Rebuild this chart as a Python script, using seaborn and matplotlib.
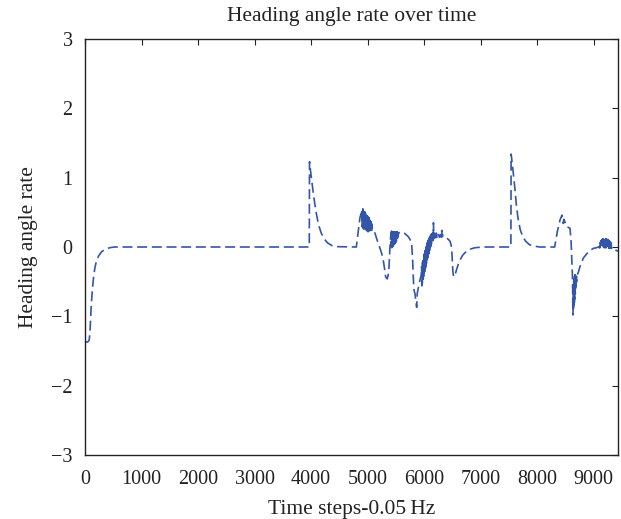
import matplotlib
matplotlib.use("Agg")
import matplotlib.pyplot as plt
import seaborn as sns
import pandas as pd

# ---- data ----
time_steps = [
    0, 50, 75, 90, 110, 130, 156, 180, 204, 240, 292, 360, 440, 520,
    3968, 3972, 3990, 4010, 4040, 4070, 4100, 4140, 4180, 4230, 4290, 4370, 4450, 4800,
    4830, 4864, 4890,
    4900, 4904, 4908, 4912, 4916, 4920, 4924, 4928, 4932, 4936, 4940, 4944, 4948, 4952,
    4956, 4960, 4964, 4968, 4972, 4976, 4980, 4984, 4988, 4992, 4996, 5000, 5004, 5008,
    5012, 5016, 5020, 5024, 5028, 5032, 5036, 5040, 5044, 5048, 5052, 5056, 5060, 5064,
    5068, 5072, 5076, 5080,
    5100, 5130, 5160, 5188, 5220, 5248, 5275, 5294, 5319, 5347, 5365, 5377, 5387, 5395, 5413,
    5420, 5424, 5428, 5432, 5436, 5440, 5444, 5448, 5452, 5456, 5460, 5464, 5468, 5472,
    5476, 5480, 5484, 5488, 5492, 5496, 5500, 5504, 5508, 5512, 5516, 5520, 5524, 5528,
    5532, 5536, 5540, 5546,
    5570, 5602, 5650, 5719, 5750, 5779, 5797, 5808, 5820, 5837, 5868, 5878, 5914, 5950,
    5956, 5960, 5964, 5968, 5972, 5976, 5980, 5984, 5988, 5992, 5996, 6000, 6004, 6008,
    6012, 6016, 6020, 6024, 6028, 6032, 6036, 6040, 6044, 6048, 6052, 6056, 6060, 6064,
    6068, 6072, 6076, 6080, 6084, 6088, 6092, 6096, 6100, 6104, 6108, 6112, 6116, 6120,
    6124, 6128, 6132, 6136, 6140, 6144, 6148, 6152, 6156, 6160, 6165, 6170,
    6185, 6200, 6215, 6230, 6250, 6270, 6290, 6305, 6312, 6320, 6340, 6370, 6400, 6440,
    6460, 6480, 6490, 6498, 6508, 6520, 6535, 6555, 6576, 6600, 6634, 6680, 6750, 6820,
    6900, 7050, 7535,
    7539, 7560, 7580, 7605, 7630, 7660, 7700, 7750, 7800, 7870, 7960, 8050, 8310,
    8356, 8404, 8439, 8452, 8462, 8472, 8492, 8505, 8533, 8581, 8599, 8611, 8622,
    8626, 8630, 8634, 8638, 8642, 8646, 8650, 8654, 8658, 8662, 8666, 8670, 8674, 8678,
    8682, 8686, 8690, 8694, 8698, 8702,
    8730, 8758, 8816, 8905, 8993, 9050, 9090,
    9100, 9106, 9112, 9118, 9124, 9130, 9136, 9142, 9148, 9154, 9160, 9166, 9172, 9178,
    9184, 9190, 9196, 9202, 9208, 9214, 9220, 9226, 9232, 9238, 9244, 9250, 9256, 9262,
    9268, 9274, 9280, 9286, 9292, 9298, 9304, 9310, 9316, 9322, 9360, 9400, 9430,
]
heading_rate = [
    -1.37, -1.37, -1.34, -1.20, -0.85, -0.62, -0.40, -0.28, -0.20, -0.13, -0.07, -0.03, -0.01, 0.0,
    0.0, 1.23, 1.10, 0.97, 0.77, 0.60, 0.45, 0.30, 0.20, 0.12, 0.06, 0.02, 0.005, 0.0,
    0.20, 0.42, 0.50,
    0.54, 0.30, 0.52, 0.28, 0.55, 0.31, 0.50, 0.26, 0.53, 0.29, 0.49, 0.27, 0.51, 0.30,
    0.47, 0.25, 0.48, 0.28, 0.46, 0.24, 0.45, 0.27, 0.44, 0.23, 0.45, 0.26, 0.42, 0.22,
    0.43, 0.25, 0.41, 0.23, 0.42, 0.24, 0.39, 0.22, 0.40, 0.24, 0.37, 0.23, 0.36, 0.24,
    0.34, 0.23, 0.32, 0.25,
    0.24, 0.20, 0.12, 0.05, -0.02, -0.09, -0.18, -0.28, -0.43, -0.46, -0.40, -0.31, -0.15, 0.0, 0.20,
    0.01, 0.23, -0.01, 0.21, 0.00, 0.22, 0.02, 0.20, 0.01, 0.22, 0.03, 0.21, 0.02, 0.22,
    0.04, 0.21, 0.05, 0.22, 0.06, 0.21, 0.07, 0.22, 0.08, 0.21, 0.10, 0.22, 0.11, 0.21,
    0.13, 0.21, 0.15, 0.20,
    0.21, 0.22, 0.20, 0.15, 0.11, 0.05, -0.19, -0.43, -0.62, -0.67, -0.87, -0.67, -0.52, -0.40,
    -0.28, -0.56, -0.26, -0.52, -0.22, -0.50, -0.20, -0.46, -0.16, -0.42, -0.13, -0.40, -0.10, -0.36,
    -0.07, -0.33, -0.05, -0.30, -0.02, -0.27, 0.00, -0.24, 0.03, -0.21, 0.05, -0.18, 0.07, -0.15,
    0.09, -0.12, 0.10, -0.10, 0.12, -0.07, 0.13, -0.05, 0.15, -0.02, 0.16, 0.00, 0.17, 0.02,
    0.18, 0.04, 0.19, 0.06, 0.19, 0.08, 0.20, 0.09, 0.19, 0.10, 0.35, 0.12,
    0.20, 0.12, 0.20, 0.13, 0.19, 0.14, 0.18, 0.14, 0.24, 0.15, 0.17, 0.16, 0.13, 0.10,
    0.08, 0.02, -0.06, -0.19, -0.35, -0.42, -0.43, -0.38, -0.32, -0.26, -0.19, -0.12, -0.06, -0.03,
    -0.01, 0.0, 0.0,
    1.34, 1.20, 1.05, 0.85, 0.62, 0.42, 0.25, 0.14, 0.08, 0.03, 0.01, 0.0, 0.0,
    0.22, 0.39, 0.46, 0.38, 0.34, 0.40, 0.36, 0.31, 0.29, 0.27, 0.10, -0.14, -0.38,
    -0.50, -0.85, -0.98, -0.55, -0.92, -0.48, -0.85, -0.45, -0.80, -0.42, -0.75, -0.40, -0.68, -0.42,
    -0.62, -0.40, -0.55, -0.42, -0.50, -0.42,
    -0.36, -0.28, -0.16, -0.07, -0.02, -0.01, 0.0,
    -0.01, 0.05, -0.01, 0.07, 0.00, 0.09, -0.01, 0.10, 0.00, 0.11, -0.01, 0.12, 0.00, 0.11,
    -0.01, 0.12, 0.00, 0.11, -0.01, 0.12, -0.01, 0.11, 0.00, 0.10, -0.02, 0.11, -0.01, 0.10,
    -0.02, 0.09, -0.02, 0.08, -0.02, 0.07, -0.03, 0.05, -0.03, -0.02, -0.03, -0.05, -0.06,
]
x_ticks = [0, 1000, 2000, 3000, 4000, 5000, 6000, 7000, 8000, 9000]
y_ticks = [-3, -2, -1, 0, 1, 2, 3]

df = pd.DataFrame({"t": time_steps, "rate": heading_rate})

sns.set_theme(style="white")
plt.rcParams["font.family"] = ["Liberation Serif", "DejaVu Serif"]

fig = plt.figure(figsize=(6.21, 5.19), dpi=100)
ax = fig.add_axes([85 / 621, 64 / 519, 533 / 621, 416 / 519])

sns.lineplot(data=df, x="t", y="rate", ax=ax, sort=False, estimator=None,
             color="#3355aa", linewidth=1.2, linestyle="--")
for ln in ax.get_lines():
    ln.set_dashes([6, 2.8])

ax.set_xlim(0, 9430)
ax.set_ylim(-3, 3)
ax.set_xticks(x_ticks)
ax.set_yticks(y_ticks)
ax.set_yticklabels(["\u22123", "\u22122", "\u22121", "0", "1", "2", "3"])
ax.tick_params(direction="in", top=True, right=True, length=4, width=0.8,
               labelsize=14.5, colors="#222222")
ax.tick_params(axis="x", pad=11)
ax.tick_params(axis="y", pad=9)
for sp in ax.spines.values():
    sp.set_visible(True)
    sp.set_color("#222222")
    sp.set_linewidth(1.0)

ax.set_xlabel("Time steps-0.05\u2009Hz", fontsize=15.5, color="#222222", labelpad=8)
ax.set_ylabel("Heading angle rate", fontsize=15.5, color="#222222", labelpad=9)
ax.set_title("Heading angle rate over time", fontsize=15.5, color="#222222", pad=13)

fig.savefig("out.png", dpi=100, facecolor="white")
